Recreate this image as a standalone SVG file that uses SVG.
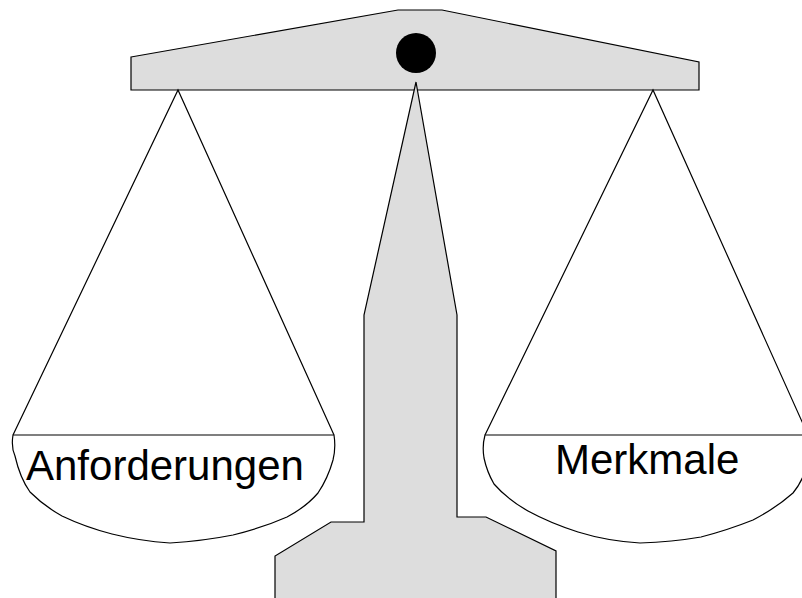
<svg xmlns="http://www.w3.org/2000/svg" width="802" height="598" viewBox="0 0 802 598">
  <style>
    .metal { fill: #dddddd; stroke: #000000; stroke-width: 1.2; stroke-linejoin: miter; }
    .line { fill: none; stroke: #000000; stroke-width: 1.2; }
    .pan { fill: #ffffff; stroke: #000000; stroke-width: 1.2; stroke-linejoin: round; }
    .label { font-family: "Liberation Sans", Arial, sans-serif; font-size: 42px; fill: #000000; }
  </style>
  <rect width="802" height="598" fill="#ffffff"/>

  <!-- balance beam -->
  <g id="beam">
    <polygon class="metal" points="131,57 398,10 442,10 699,62 699,90 131,90"/>
  </g>

  <!-- centre column, tip reaching into the beam -->
  <g id="column">
    <polygon class="metal" points="416,82 457,315 457,517 486,517 556,551 556,599 275,599 275,556 331,522 364,522 364,315"/>
  </g>

  <g id="pivot">
    <ellipse cx="416" cy="53" rx="20" ry="20" fill="#000000"/>
  </g>

  <!-- hanging strings -->
  <g id="strings">
    <polyline class="line" points="13,435 178,90 334,435"/>
    <polyline class="line" points="485,435 653,90 808,435"/>
  </g>

  <!-- left scale pan -->
  <g id="pan-left">
    <path class="pan" d="M13,435 Q11,447 15,456 Q20,478 30,492 Q44,506 62,516 Q85,527 112,534 Q140,541 170,543 Q203,541 233,535 Q262,528 287,517 Q306,507 318,493 Q328,478 333,460 Q336,448 334,435 Z"/>
    <text class="label" x="26" y="480">Anforderungen</text>
  </g>

  <!-- right scale pan -->
  <g id="pan-right">
    <path class="pan" d="M485,435 Q482,446 484,458 Q487,472 494,484 Q507,499 528,511 Q550,523 578,532 Q607,541 640,543 Q672,542 701,537 Q728,530 753,520 Q776,508 793,493 Q804,480 808,460 Q810,447 808,435 Z"/>
    <text class="label" x="555" y="474">Merkmale</text>
  </g>
</svg>
